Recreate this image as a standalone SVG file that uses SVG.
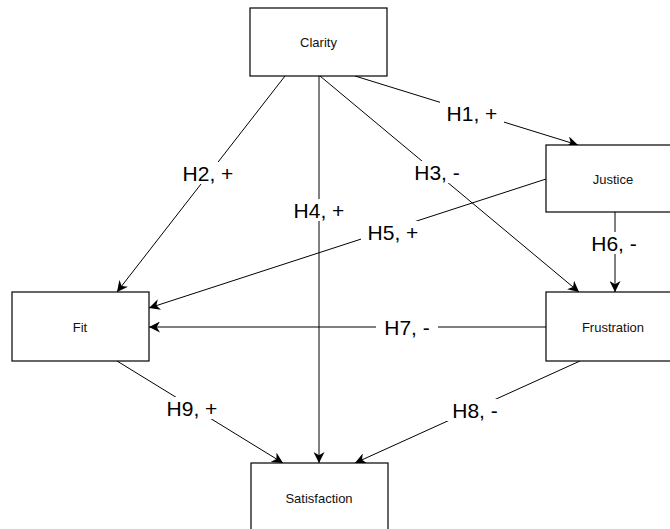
<svg xmlns="http://www.w3.org/2000/svg" width="670" height="529" viewBox="0 0 670 529">
<defs>
<marker id="arr" viewBox="0 0 10 10" refX="10" refY="5" markerWidth="11" markerHeight="11" markerUnits="userSpaceOnUse" orient="auto">
<path d="M0,0 L10,5 L0,10 L3,5 Z" fill="#000"/>
</marker>
</defs>
<style>
.node rect{fill:#fff;stroke:#000;stroke-width:1.2}
.node text{font-family:"Liberation Sans",Arial,sans-serif;font-size:13px;fill:#111;text-anchor:middle;dominant-baseline:central}
.edge{fill:none;stroke:#000;stroke-width:1;marker-end:url(#arr)}
.lbl rect{fill:#fff}
.lbl text{font-family:"Liberation Sans",Arial,sans-serif;font-size:21px;fill:#000;text-anchor:middle;dominant-baseline:central}
</style>
<rect width="670" height="529" fill="#fff"/>
<g id="connectors">
<line class="edge" x1="355" y1="76" x2="578" y2="145"/>
<line class="edge" x1="285" y1="76" x2="117" y2="292"/>
<line class="edge" x1="320" y1="76" x2="579" y2="292"/>
<line class="edge" x1="319" y1="76" x2="319" y2="463"/>
<line class="edge" x1="546" y1="179" x2="149" y2="308"/>
<line class="edge" x1="615" y1="212" x2="615" y2="292"/>
<line class="edge" x1="546" y1="327" x2="149" y2="327"/>
<line class="edge" x1="580" y1="361" x2="355" y2="463"/>
<line class="edge" x1="117" y1="361" x2="283" y2="463"/>
<g class="lbl"><rect x="440" y="102" width="64" height="22"/><text x="472" y="113">H1, +</text></g>
<g class="lbl"><rect x="176" y="162" width="64" height="22"/><text x="208" y="173">H2, +</text></g>
<g class="lbl"><rect x="409" y="161" width="56" height="22"/><text x="437" y="172">H3, -</text></g>
<g class="lbl"><rect x="287" y="199" width="64" height="22"/><text x="319" y="210">H4, +</text></g>
<g class="lbl"><rect x="361" y="221" width="64" height="22"/><text x="393" y="232">H5, +</text></g>
<g class="lbl"><rect x="586" y="232" width="56" height="22"/><text x="614" y="243">H6, -</text></g>
<g class="lbl"><rect x="376" y="316" width="62" height="22"/><text x="407" y="327">H7, -</text></g>
<g class="lbl"><rect x="446" y="399" width="58" height="22"/><text x="475" y="410">H8, -</text></g>
<g class="lbl"><rect x="160" y="397" width="64" height="22"/><text x="192" y="408">H9, +</text></g>
</g>
<g id="clarity" class="node"><rect x="250" y="8" width="137" height="68"/><text x="318.5" y="42">Clarity</text></g>
<g id="justice" class="node"><rect x="546" y="145" width="137" height="67"/><text x="613" y="179">Justice</text></g>
<g id="fit" class="node"><rect x="12" y="292" width="137" height="69"/><text x="80" y="327">Fit</text></g>
<g id="frustration" class="node"><rect x="546" y="292" width="137" height="69"/><text x="613" y="327">Frustration</text></g>
<g id="satisfaction" class="node"><rect x="251" y="463" width="137" height="68"/><text x="319" y="498">Satisfaction</text></g>
</svg>
